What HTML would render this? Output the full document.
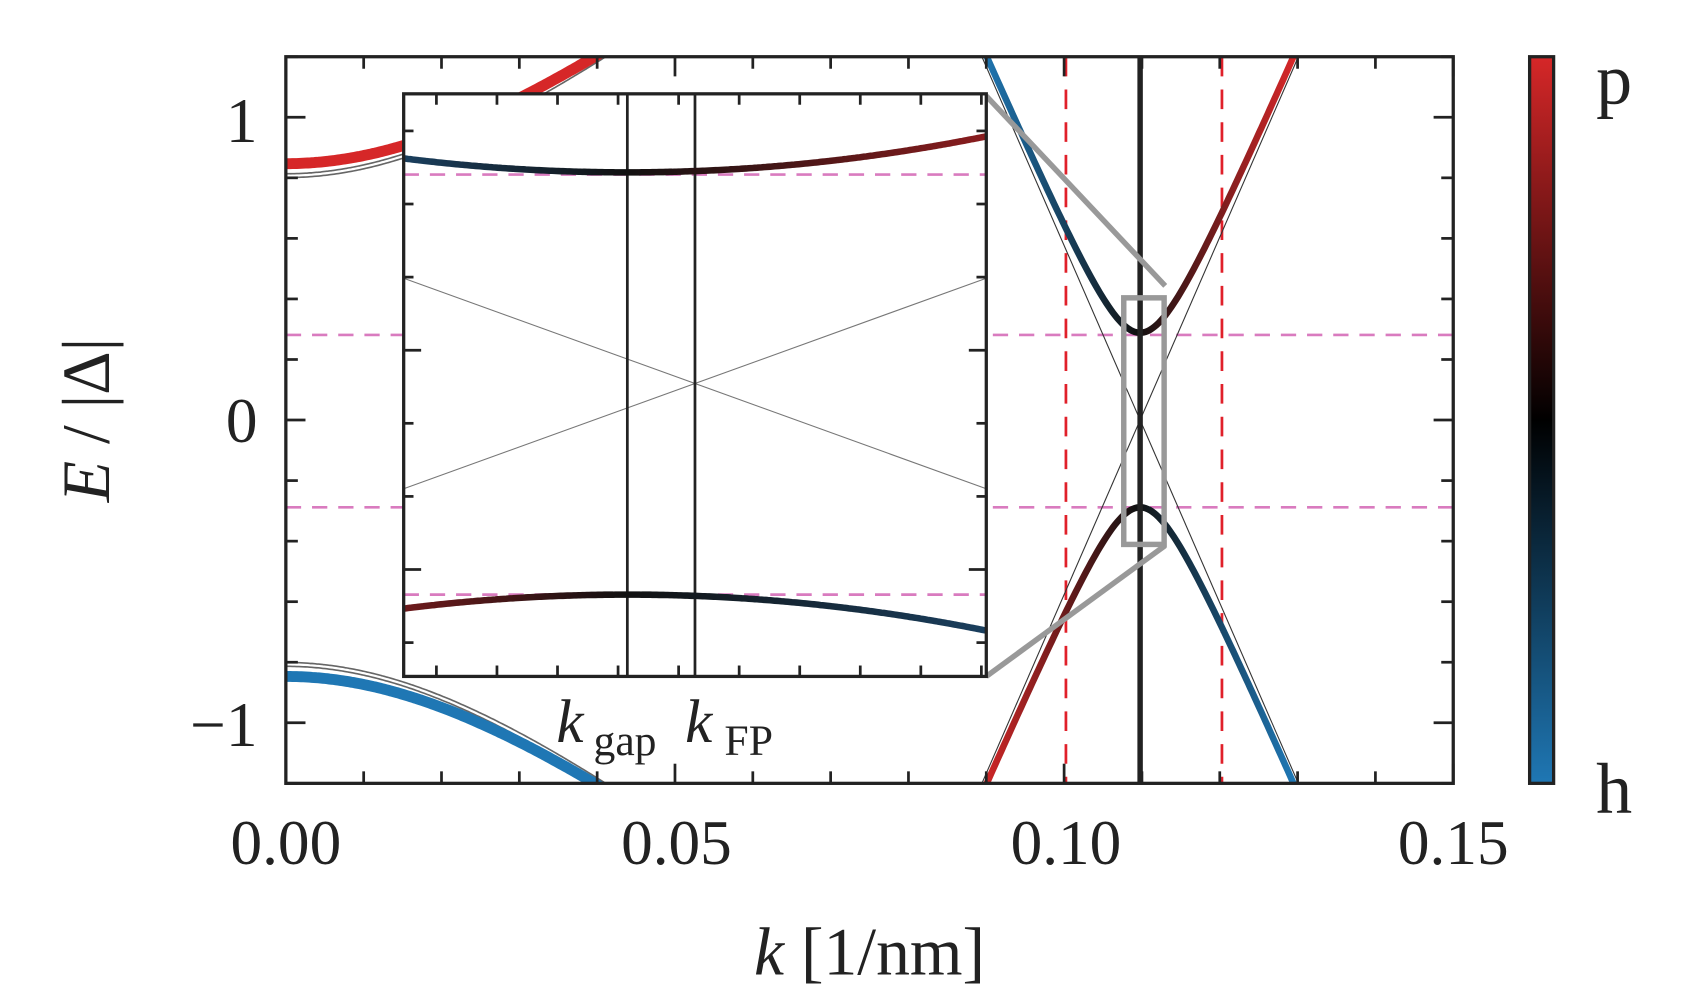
<!DOCTYPE html>
<html><head><meta charset="utf-8"><style>
html,body{margin:0;padding:0;background:#fff;}
svg{display:block;}
text{font-family:"Liberation Serif",serif;fill:#222;}
</style></head><body>
<svg id="s" width="1702" height="1004" viewBox="0 0 1560 920.25" preserveAspectRatio="none" xmlns="http://www.w3.org/2000/svg">
<defs>
<linearGradient id="gU" gradientUnits="userSpaceOnUse" x1="900" y1="0" x2="1185" y2="0">
<stop offset="0" stop-color="#1f77b4"/><stop offset="0.5" stop-color="#111"/><stop offset="1" stop-color="#d62728"/></linearGradient>
<linearGradient id="gL" gradientUnits="userSpaceOnUse" x1="897" y1="0" x2="1185" y2="0">
<stop offset="0" stop-color="#d62728"/><stop offset="0.5" stop-color="#111"/><stop offset="1" stop-color="#1f77b4"/></linearGradient>
<linearGradient id="iU" gradientUnits="userSpaceOnUse" x1="370" y1="0" x2="904" y2="0">
<stop offset="0" stop-color="#1a3f5e"/><stop offset="0.38" stop-color="#111"/><stop offset="1" stop-color="#8a1c1e"/></linearGradient>
<linearGradient id="iL" gradientUnits="userSpaceOnUse" x1="370" y1="0" x2="904" y2="0">
<stop offset="0" stop-color="#6e1a1c"/><stop offset="0.38" stop-color="#111"/><stop offset="1" stop-color="#1a3f5e"/></linearGradient>
<linearGradient id="cb" x1="0" y1="0" x2="0" y2="1">
<stop offset="0" stop-color="#d62728"/><stop offset="0.5" stop-color="#000"/><stop offset="1" stop-color="#1f77b4"/></linearGradient>
<clipPath id="main"><rect x="262" y="52" width="1070" height="666"/></clipPath>
<clipPath id="ins"><rect x="370" y="86" width="534" height="534"/></clipPath>
</defs>
<g clip-path="url(#main)" id="mainG">
<line x1="262" y1="307" x2="1332" y2="307" stroke="#d97bbf" stroke-width="2.5" stroke-dasharray="14,10"/>
<line x1="262" y1="465" x2="1332" y2="465" stroke="#d97bbf" stroke-width="2.5" stroke-dasharray="14,10"/>
<line x1="977" y1="52" x2="977" y2="718" stroke="#e0202a" stroke-width="2.5" stroke-dasharray="18,12"/>
<line x1="1120" y1="52" x2="1120" y2="718" stroke="#e0202a" stroke-width="2.5" stroke-dasharray="18,12"/>
<line x1="1190" y1="52" x2="900" y2="718" stroke="#333" stroke-width="1"/>
<line x1="900" y1="52" x2="1190" y2="718" stroke="#333" stroke-width="1"/>
<path id="lt1" fill="none" stroke="#666" stroke-width="5"/>
<path id="lt2" fill="none" stroke="#fff" stroke-width="2"/>
<path id="lb1" fill="none" stroke="#666" stroke-width="5"/>
<path id="lb2" fill="none" stroke="#fff" stroke-width="2"/>
<path id="lt" fill="none" stroke="#d62728" stroke-width="10"/>
<path id="lb" fill="none" stroke="#1f77b4" stroke-width="10"/>
<path id="ru" fill="none" stroke="url(#gU)" stroke-width="6"/>
<path id="rl" fill="none" stroke="url(#gL)" stroke-width="6"/>
<line x1="1045" y1="52" x2="1045" y2="718" stroke="#222" stroke-width="5"/>
<rect x="1030" y="273" width="37" height="226" fill="none" stroke="#999" stroke-width="5"/>
<line x1="904" y1="88" x2="1068" y2="262" stroke="#999" stroke-width="5"/>
<line x1="904" y1="620" x2="1068" y2="500" stroke="#999" stroke-width="5"/>
</g>
<rect x="370" y="86" width="534" height="534" fill="#fff"/>
<g clip-path="url(#ins)">
<line x1="370" y1="160" x2="904" y2="160" stroke="#d97bbf" stroke-width="2.5" stroke-dasharray="14,10"/>
<line x1="370" y1="545" x2="904" y2="545" stroke="#d97bbf" stroke-width="2.5" stroke-dasharray="14,10"/>
<line x1="370" y1="255" x2="904" y2="448" stroke="#777" stroke-width="1"/>
<line x1="370" y1="448" x2="904" y2="255" stroke="#777" stroke-width="1"/>
<line x1="575" y1="86" x2="575" y2="620" stroke="#222" stroke-width="2.5"/>
<line x1="637" y1="86" x2="637" y2="620" stroke="#222" stroke-width="2.5"/>
<path id="iu" fill="none" stroke="url(#iU)" stroke-width="6"/>
<path id="il" fill="none" stroke="url(#iL)" stroke-width="6"/>
</g>
<g id="ticks" stroke="#222" stroke-width="2.5"></g>
<rect x="370" y="86" width="534" height="534" fill="none" stroke="#222" stroke-width="3"/>
<rect x="262" y="52" width="1070" height="666" fill="none" stroke="#222" stroke-width="3"/>
<text x="510" y="680" font-size="56" font-style="italic">k</text>
<text x="544" y="692" font-size="40">gap</text>
<text x="628" y="680" font-size="56" font-style="italic">k</text>
<text x="664" y="692" font-size="40">FP</text>
<text x="236" y="130" font-size="58" text-anchor="end">1</text>
<text x="236" y="405" font-size="58" text-anchor="end">0</text>
<text x="236" y="684" font-size="58" text-anchor="end">−1</text>
<text x="262" y="792" font-size="58" text-anchor="middle">0.00</text>
<text x="620" y="792" font-size="58" text-anchor="middle">0.05</text>
<text x="977" y="792" font-size="58" text-anchor="middle">0.10</text>
<text x="1332" y="792" font-size="58" text-anchor="middle">0.15</text>
<text x="797" y="893" font-size="62" text-anchor="middle"><tspan font-style="italic">k</tspan> [1/nm]</text>
<text transform="translate(100,385) rotate(-90)" font-size="62" text-anchor="middle"><tspan font-style="italic">E</tspan> / |Δ|</text>
<rect x="1402" y="52" width="22" height="666" fill="url(#cb)" stroke="#222" stroke-width="3"/>
<text x="1463" y="95" font-size="66">p</text>
<text x="1463" y="745" font-size="66">h</text>
</svg>
<script>
function P(f,x0,x1){var s="";for(var x=x0;x<=x1;x+=2){s+=(s?"L":"M")+x+","+f(x).toFixed(1);}return s;}
function E(x,E0,a){return Math.sqrt(E0*E0+Math.pow(a*(x-262),2));}
var d=document;
d.getElementById("lt").setAttribute("d",P(function(x){return 385-E(x,235,0.834)},262,600));
d.getElementById("lb").setAttribute("d",P(function(x){return 385+E(x,235,0.834)},262,600));
var gt=P(function(x){return 385-E(x,224,0.85)},262,600),gb=P(function(x){return 385+E(x,224,0.85)},262,600);
["lt1","lt2"].forEach(function(i){d.getElementById(i).setAttribute("d",gt)});
["lb1","lb2"].forEach(function(i){d.getElementById(i).setAttribute("d",gb)});
function H(x){return Math.sqrt(6400+Math.pow(2.3*(x-1045),2));}
d.getElementById("ru").setAttribute("d",P(function(x){return 385-H(x)},880,1210));
d.getElementById("rl").setAttribute("d",P(function(x){return 385+H(x)},880,1210));
d.getElementById("iu").setAttribute("d",P(function(x){return 158-3.05e-4*(x-575)*(x-575)},366,908));
d.getElementById("il").setAttribute("d",P(function(x){return 545+3.05e-4*(x-575)*(x-575)},366,908));
var t=d.getElementById("ticks"),h="";
function L(a,b,c,e){h+='<line x1="'+a+'" y1="'+b+'" x2="'+c+'" y2="'+e+'"/>';}
for(var i=0;i<=15;i++){var x=262+i*1070/15,m=(i%5==0)?18:11;L(x,52,x,52+m);L(x,718,x,718-m);}
for(var j=-6;j<=6;j++){var y=385-j*277.5/5,m=(j%5==0)?18:11;L(262,y,262+m,y);L(1332,y,1332-m,y);}
for(var j=-12;j<=12;j++){var y=385-j*55.5/2;if(y>52&&y<718){L(1402,y,1407,y);L(1424,y,1419,y);}}
for(var k=0;k<10;k++){var x=400+k*55.5;L(x,86,x,96);L(x,620,x,610);}
for(var k=0;k<8;k++){var y=120+k*67;var m=(k==3||k==6)?16:9;L(370,y,370+m,y);L(904,y,904-m,y);}
t.innerHTML=h;
</script>
</body></html>
